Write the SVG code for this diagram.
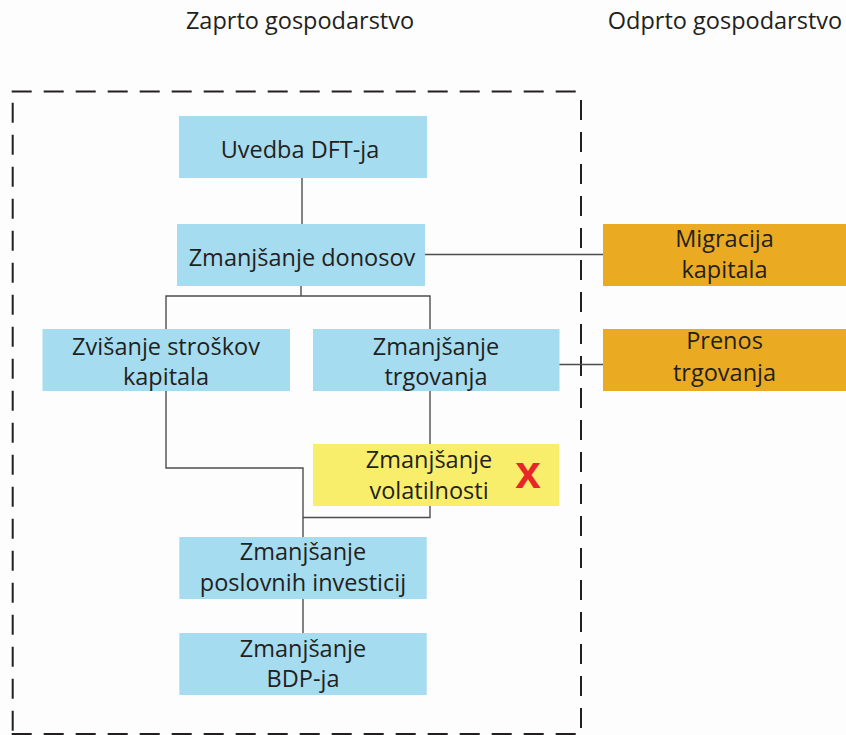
<svg xmlns="http://www.w3.org/2000/svg" width="846" height="735" viewBox="0 0 846 735">
<style>
text{font-family:"Open Sans","Noto Sans","Liberation Sans",sans-serif;font-size:23.5px;fill:#231f20;text-anchor:middle}
.blue{fill:#a6dcef}
.orange{fill:#eaab22}
.yellow{fill:#f8ee6c}
.conn{fill:none;stroke:#4d4d4d;stroke-width:1.4}
.dash{fill:none;stroke:#231f20;stroke-width:2;stroke-dasharray:20 12}
.x{font-family:"Liberation Sans",Arial,sans-serif;font-weight:bold;font-size:46px;fill:#e8262a}
</style>
<rect width="846" height="735" fill="#fdfdfd"/>
<g id="titles">
<text x="300" y="29">Zaprto gospodarstvo</text>
<text x="725" y="29">Odprto gospodarstvo</text>
</g>
<g id="boundary">
<line class="dash" x1="11.7" y1="91.5" x2="581" y2="91.5"/>
<line class="dash" x1="12.7" y1="102.7" x2="12.7" y2="734"/>
<line class="dash" x1="581" y1="100" x2="581" y2="734"/>
<line class="dash" x1="11.7" y1="734" x2="581" y2="734"/>
</g>
<g id="connectors">
<path class="conn" d="M302,178V224"/>
<path class="conn" d="M301,286V296"/>
<path class="conn" d="M166,329V296H430V329"/>
<path class="conn" d="M425,254.5H603"/>
<path class="conn" d="M559,364.5H603"/>
<path class="conn" d="M166,391V468H303V537"/>
<path class="conn" d="M430,391V444"/>
<path class="conn" d="M430,506V517.5H303"/>
<path class="conn" d="M303,599V633"/>
</g>
<g id="n-uvedba">
<rect class="blue" x="179" y="116" width="248" height="62"/>
<text x="300" y="158">Uvedba DFT-ja</text>
</g>
<g id="n-donosov">
<rect class="blue" x="177" y="224" width="248" height="62"/>
<text x="302" y="265.7">Zmanjšanje donosov</text>
</g>
<g id="n-migracija">
<rect class="orange" x="603" y="224" width="243" height="62"/>
<text x="724.5" y="246.7">Migracija</text>
<text x="724.5" y="278.3">kapitala</text>
</g>
<g id="n-zvisanje">
<rect class="blue" x="42.5" y="329" width="247.5" height="62"/>
<text x="166" y="355">Zvišanje stroškov</text>
<text x="166" y="385">kapitala</text>
</g>
<g id="n-trgovanja">
<rect class="blue" x="313" y="329" width="246.5" height="62"/>
<text x="436" y="355">Zmanjšanje</text>
<text x="436" y="385">trgovanja</text>
</g>
<g id="n-prenos">
<rect class="orange" x="603" y="329" width="243" height="62"/>
<text x="724.5" y="349.3">Prenos</text>
<text x="724.5" y="380.7">trgovanja</text>
</g>
<g id="n-volatilnosti">
<rect class="yellow" x="313" y="444" width="246.3" height="62"/>
<text x="429" y="468.3">Zmanjšanje</text>
<text x="429" y="499">volatilnosti</text>
<text class="x" x="528" y="488">x</text>
</g>
<g id="n-poslovnih">
<rect class="blue" x="179.3" y="537" width="247.4" height="62"/>
<text x="303" y="560">Zmanjšanje</text>
<text x="303" y="590.7">poslovnih investicij</text>
</g>
<g id="n-bdp">
<rect class="blue" x="179.3" y="633" width="247.4" height="62"/>
<text x="303" y="656.7">Zmanjšanje</text>
<text x="303" y="687.3">BDP-ja</text>
</g>
</svg>
